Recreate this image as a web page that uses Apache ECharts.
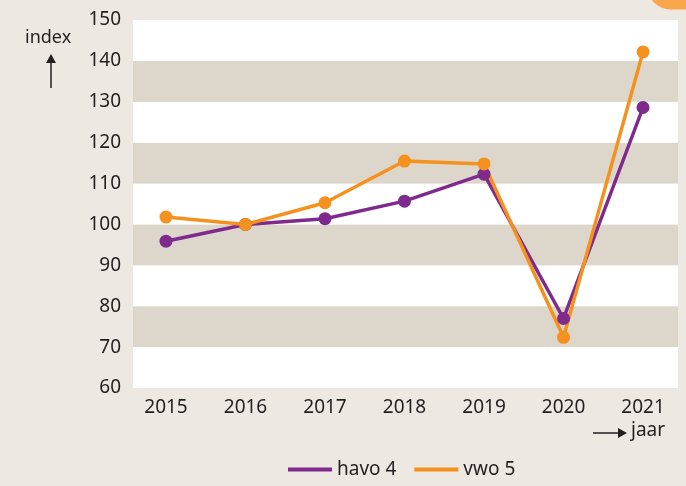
<!DOCTYPE html>
<html>
<head>
<meta charset="utf-8">
<script src="https://cdn.jsdelivr.net/npm/echarts@6/dist/echarts.min.js"></script>
<style>
html, body { margin: 0; padding: 0; background: #ede8e1; }
#chart { width: 686px; height: 486px; }
</style>
</head>
<body>
<div id="chart"></div>
<script>
// jaartallen en indexcijfers
var years = [2015, 2016, 2017, 2018, 2019, 2020, 2021]
var havo4 = [95.9, 100, 101.4, 105.7, 112.3, 77, 128.6]
var vwo5 = [101.8, 100, 105.3, 115.5, 114.8, 72.4, 142.2]
var yTicks = [60, 70, 80, 90, 100, 110, 120, 130, 140, 150]

var textColor = '#231f20'
var font = 'Noto Sans'

function pairs (vals) {
  return years.map(function (y, i) { return [y, vals[i]] })
}

var chart = echarts.init(document.getElementById('chart'))
chart.setOption({
  backgroundColor: '#ede8e1',
  animation: false,
  grid: { left: 133, right: 8, top: 20, bottom: 98 },
  xAxis: {
    type: 'value',
    min: 2014.585,
    max: 2021.44,
    minInterval: 1,
    maxInterval: 1,
    splitLine: { show: false },
    axisLine: { show: false },
    axisTick: { show: false },
    axisLabel: {
      margin: 10,
      color: textColor,
      fontFamily: font,
      fontSize: 19,
      showMinLabel: false,
      showMaxLabel: false,
      formatter: function (v) {
        return years.indexOf(Math.round(v * 1000) / 1000) >= 0 ? String(v) : ''
      }
    }
  },
  yAxis: {
    type: 'value',
    min: yTicks[0],
    max: yTicks[yTicks.length - 1],
    interval: 10,
    splitLine: { show: false },
    splitArea: { show: true, areaStyle: { color: ['#ffffff', '#ddd7cb'] } },
    axisLine: { show: false },
    axisTick: { show: false },
    axisLabel: { margin: 12, color: textColor, fontFamily: font, fontSize: 19 }
  },
  legend: {
    top: 460,
    left: 288,
    padding: 0,
    icon: 'rect',
    itemWidth: 44,
    itemHeight: 4,
    itemGap: 18,
    textStyle: { color: textColor, fontFamily: font, fontSize: 19 },
    data: ['havo 4', 'vwo 5']
  },
  graphic: [
    { type: 'text', left: 25, top: 29, style: { text: 'index', fill: textColor, font: '18px Noto Sans' } },
    { type: 'line', shape: { x1: 51, y1: 88, x2: 51, y2: 62 }, style: { stroke: textColor, lineWidth: 1.5 } },
    { type: 'polygon', shape: { points: [[46, 63], [56, 63], [51, 54]] }, style: { fill: textColor } },
    { type: 'line', shape: { x1: 593, y1: 433, x2: 619, y2: 433 }, style: { stroke: textColor, lineWidth: 1.5 } },
    { type: 'polygon', shape: { points: [[618, 428], [618, 438], [627, 433]] }, style: { fill: textColor } },
    { type: 'text', left: 631, top: 421, style: { text: 'jaar', fill: textColor, font: '19px Noto Sans' } },
    { type: 'rect', shape: { x: 647, y: -40, width: 70, height: 49.5, r: 24 }, style: { fill: '#f9a54c' } }
  ],
  series: [
    {
      name: 'havo 4',
      type: 'line',
      data: pairs(havo4),
      symbol: 'circle',
      symbolSize: 13,
      lineStyle: { width: 3.5, color: '#7e2b8d' },
      itemStyle: { color: '#7e2b8d' }
    },
    {
      name: 'vwo 5',
      type: 'line',
      data: pairs(vwo5),
      symbol: 'circle',
      symbolSize: 13,
      lineStyle: { width: 3.5, color: '#f5911e' },
      itemStyle: { color: '#f5911e' }
    }
  ]
})
</script>
</body>
</html>
